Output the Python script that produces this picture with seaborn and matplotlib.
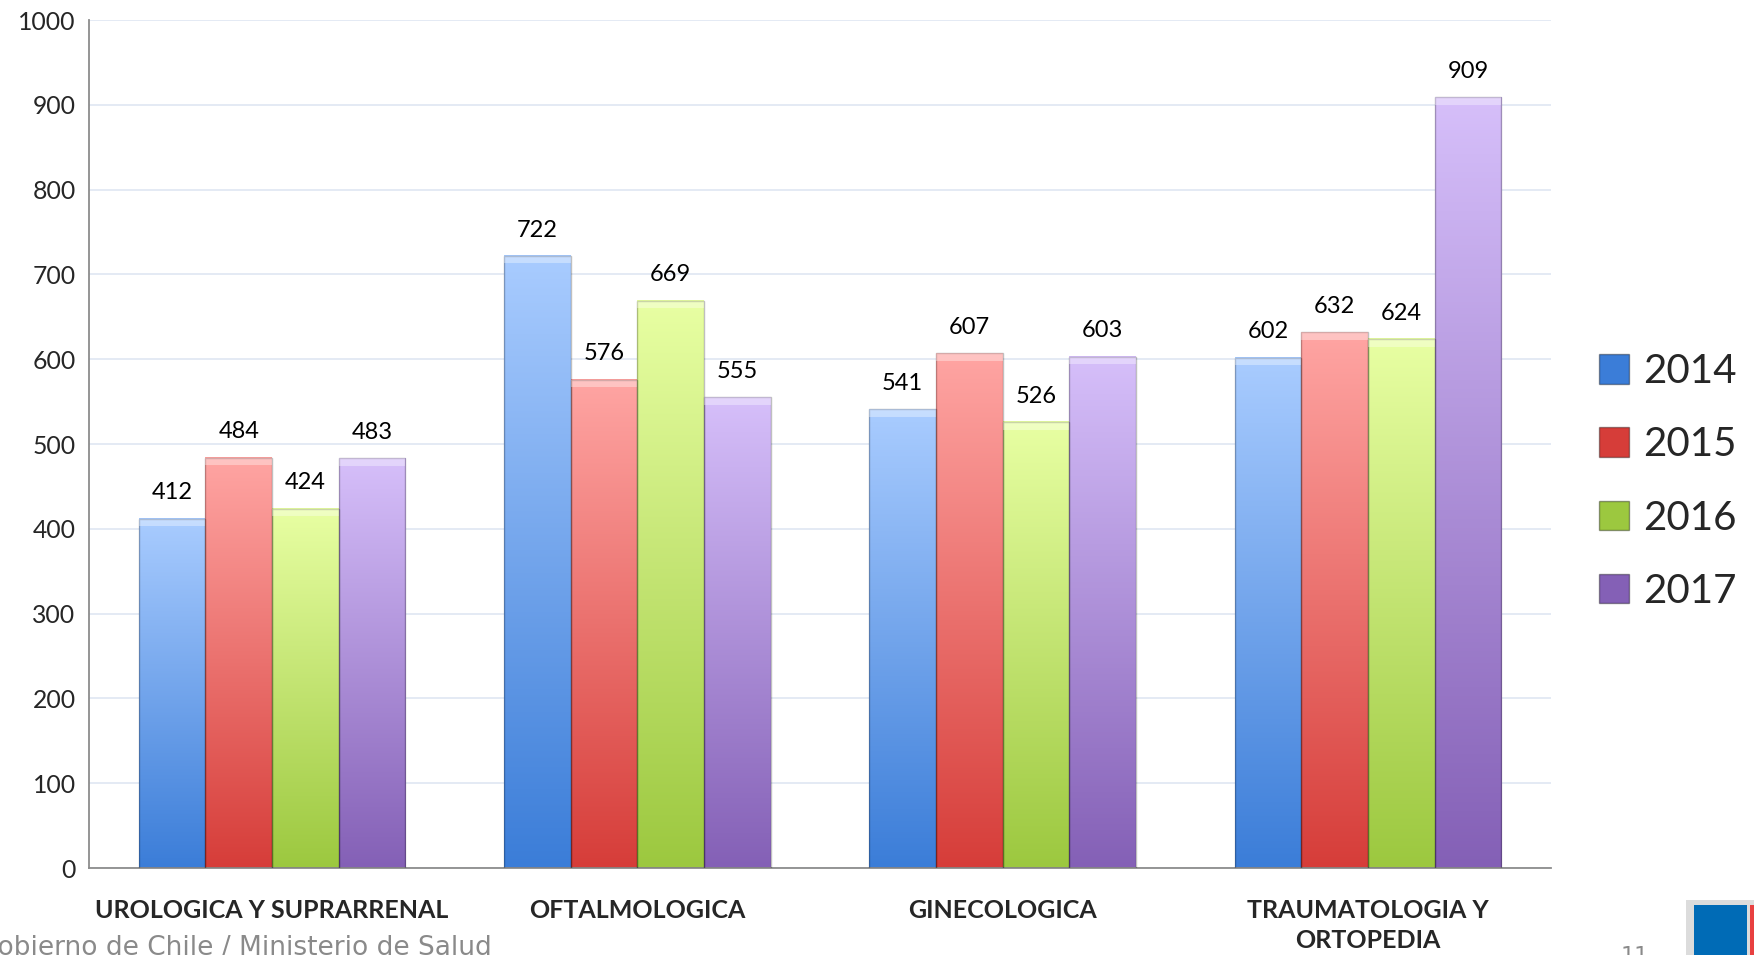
import numpy as np
import pandas as pd
import matplotlib
matplotlib.use("Agg")
import matplotlib.pyplot as plt
import seaborn as sns
from matplotlib.colors import LinearSegmentedColormap
from matplotlib.patches import Patch, Rectangle

categories = ["UROLOGICA Y SUPRARRENAL", "OFTALMOLOGICA", "GINECOLOGICA", "TRAUMATOLOGIA Y\nORTOPEDIA"]
years = ["2014", "2015", "2016", "2017"]
v2014 = [412, 722, 541, 602]
v2015 = [484, 576, 607, 632]
v2016 = [424, 669, 526, 624]
v2017 = [483, 555, 603, 909]

# colores: (abajo, arriba)
grad = {
    "2014": ("#3b7dd8", "#a9ccff"),
    "2015": ("#d63d39", "#ffa5a3"),
    "2016": ("#9cc83f", "#e8ffa3"),
    "2017": ("#8460b6", "#d6bffa"),
}

rows = []
for y, vals in zip(years, [v2014, v2015, v2016, v2017]):
    for c, v in zip(categories, vals):
        rows.append({"cat": c, "year": y, "val": v})
df = pd.DataFrame(rows)

sns.set_style("white")
plt.rcParams["font.family"] = ["Lato", "DejaVu Sans"]

fig = plt.figure(figsize=(17.54, 9.55), dpi=100)
ax = fig.add_axes([0.051, 0.091, 0.833, 0.888])

pal = {y: grad[y][0] for y in years}
sns.barplot(data=df, x="cat", y="val", hue="year", palette=pal, width=0.73,
            gap=0, legend=False, ax=ax, saturation=1, edgecolor="none")

ax.set_ylim(0, 1000)
xl = ax.get_xlim()

# gradiente vertical en cada barra
for cont, y in zip(ax.containers, years):
    cmap = LinearSegmentedColormap.from_list(y, [grad[y][0], grad[y][1]])
    for bar in cont:
        x0, w, h = bar.get_x(), bar.get_width(), bar.get_height()
        g = np.linspace(0, 1, 256).reshape(-1, 1)
        ax.imshow(g, extent=[x0, x0 + w, 0, h], origin="lower", aspect="auto",
                  cmap=cmap, zorder=2)
        ax.add_patch(Rectangle((x0, 0), w, h, fill=False, edgecolor="#00000040",
                               linewidth=1, zorder=3))
        ax.add_patch(Rectangle((x0, h - 9), w, 9, color="white", alpha=0.35,
                               linewidth=0, zorder=3))
        ax.text(x0 + w / 2, h + 18, str(int(h)), ha="center", va="bottom",
                fontsize=17, color="black", zorder=4)

ax.set_xlim(xl)
ax.set_ylim(0, 1000)
ax.set_yticks(range(0, 1001, 100))
ax.yaxis.grid(True, color="#dfe6f2", linewidth=1.2)
ax.set_axisbelow(True)
ax.tick_params(axis="both", length=0, labelsize=17.8, pad=10)
ax.tick_params(axis="x", pad=22)
for lab in ax.get_xticklabels():
    lab.set_fontweight("bold")
    lab.set_fontsize(18)
    lab.set_linespacing(1.4)
ax.set_xlabel("")
ax.set_ylabel("")
for s in ["top", "right"]:
    ax.spines[s].set_visible(False)
for s in ["left", "bottom"]:
    ax.spines[s].set_color("#8c8c8c")
    ax.spines[s].set_linewidth(1.3)

handles = [Patch(facecolor=grad[y][0], edgecolor="#00000060") for y in years]
ax.legend(handles, years, loc="center left", bbox_to_anchor=(1.033, 0.456),
          frameon=False, fontsize=29, handlelength=0.75, handleheight=0.75,
          handletextpad=0.35, labelspacing=0.9, borderaxespad=0, borderpad=0)

fig.text(0.2805, -0.006, "Gobierno de Chile / Ministerio de Salud", ha="right",
         va="bottom", fontsize=19, color="#8a8a8a", family="DejaVu Sans")
fig.text(0.932, -0.012, "11", ha="center", va="bottom", fontsize=16,
         color="#8a8a8a", family="DejaVu Sans")
fig.patches.append(Rectangle((0.961, 0.0), 0.039, 0.058, transform=fig.transFigure,
                             facecolor="#dcdcdc", edgecolor="none"))
fig.patches.append(Rectangle((0.966, 0.0), 0.030, 0.052, transform=fig.transFigure,
                             facecolor="#006bb6", edgecolor="none"))
fig.patches.append(Rectangle((0.998, 0.0), 0.002, 0.052, transform=fig.transFigure,
                             facecolor="#e84040", edgecolor="none"))

fig.savefig("out.png", dpi=100)
